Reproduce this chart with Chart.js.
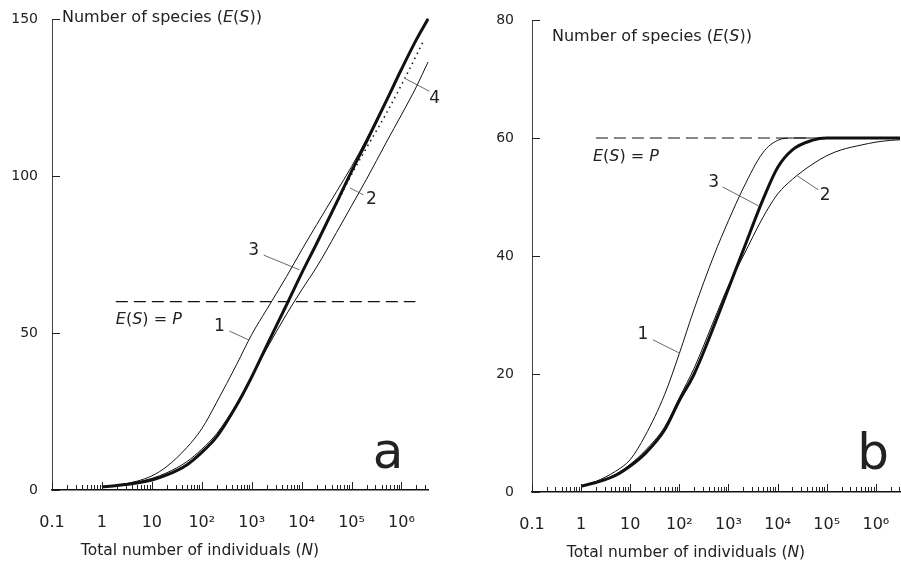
<!DOCTYPE html>
<html>
<head>
<meta charset="utf-8">
<title>Expected number of species E(S)</title>
<script src="https://cdn.jsdelivr.net/npm/chart.js@4.4.1/dist/chart.umd.min.js"></script>
<style>
  body { margin: 0; background: #fff; }
  #wrap { position: relative; width: 901px; height: 567px; }
  .panel { position: absolute; top: 0; height: 567px; }
  #panel-a { left: 0; width: 450px; }
  #panel-b { left: 450px; width: 451px; }
</style>
</head>
<body>
<div id="wrap">
  <div class="panel" id="panel-a"><canvas id="chart-a"></canvas></div>
  <div class="panel" id="panel-b"><canvas id="chart-b"></canvas></div>
</div>
<script>
// total number of individuals (N)
const nA = [1, 2, 5, 10, 20, 50, 100, 200, 500, 1e3, 2e3, 5e3, 1e4, 2e4, 5e4, 1e5, 2e5, 5e5, 1e6, 2e6, 3.4e6];
const nB = [1, 2, 5, 10, 20, 50, 100, 200, 500, 1e3, 2e3, 5e3, 1e4, 2e4, 5e4, 1e5, 2e5, 5e5, 1e6, 2e6, 3.1e6];

// panel a : E(S)
const curve1A = [1, 1.5, 2.8, 4.5, 7.5, 13.5, 19.5, 28, 40, 49.5, 57.5, 68, 76.4, 84.5, 95, 103, 111.8, 124.5, 134.3, 143.6, 150.2];
const curve2A = [1, 1.5, 2.5, 3.7, 5.5, 9, 13, 18, 27.5, 36, 45, 56, 63.7, 71, 82, 90.5, 99, 110.8, 119.5, 128.5, 136.3];
const curve3A = [1, 1.4, 2.2, 3.2, 4.8, 8, 12, 17, 27, 36, 46, 59, 69, 78.5, 91.5, 101.5, 111, 124, 134, 143.5, 150];
const nDottedA = [2e4, 5e4, 1e5, 2e5, 5e5, 1e6, 2e6, 2.75e6];
const curve4A = [78.5, 91, 100.5, 109, 120, 129, 138.5, 143];

// panel b : E(S)
const curve1B = [1, 1.8, 3.5, 5.5, 9.5, 16.5, 23.5, 31, 40, 46, 51.5, 57.5, 59.6, 60, 60, 60, 60, 60, 60, 60, 60];
const curve2B = [1, 1.7, 3.0, 4.7, 7, 11, 16, 21, 29, 35, 40, 46.5, 50.5, 53, 55.5, 57, 58, 58.8, 59.3, 59.6, 59.7];
const curve3B = [1, 1.6, 2.8, 4.4, 6.5, 10.5, 15.5, 20, 28, 34.5, 41, 49.5, 55, 58, 59.6, 60, 60, 60, 60, 60, 60];

// E(S) = P level
const poolSize = 60;
const nLevelA = [1.9, 1.9e6];
const nLevelB = [2, 4e4];

// axis ticks
const majorTicks = [0.1, 1, 10, 100, 1e3, 1e4, 1e5, 1e6];
const tickLabels = ["0.1", "1", "10", "10²", "10³", "10⁴", "10⁵", "10⁶"];

const FONT = '"DejaVu Sans", Verdana, sans-serif';

const pts = (xs, ys) => xs.map((x, i) => ({ x: x, y: ys[i] }));

function buildTicks(max) {
  let out = [];
  majorTicks.forEach((m) => {
    out.push(m);
    for (let k = 2; k <= 9; k++) {
      if (m * k <= max) out.push(m * k);
    }
  });
  return out.filter((v) => v <= max);
}

function line(data, width, dash) {
  return {
    data: data,
    borderColor: "#111",
    borderWidth: width,
    borderDash: dash || [],
    pointRadius: 0,
    fill: false,
    cubicInterpolationMode: "monotone",
    clip: 4,
  };
}

// draw mixed upright / italic text
function drawParts(ctx, parts, x, y, size, align) {
  let w = 0;
  parts.forEach((p) => {
    ctx.font = (p[1] ? "italic " : "") + size + "px " + FONT;
    w += ctx.measureText(p[0]).width;
  });
  let cx = align == "center" ? x - w / 2 : x;
  ctx.textAlign = "left";
  ctx.textBaseline = "middle";
  parts.forEach((p) => {
    ctx.font = (p[1] ? "italic " : "") + size + "px " + FONT;
    ctx.fillText(p[0], cx, y);
    cx += ctx.measureText(p[0]).width;
  });
}

const yTitle = [["Number of species (", false], ["E", true], ["(", false], ["S", true], ["))", false]];
const xTitle = [["Total number of individuals (", false], ["N", true], [")", false]];
const levelText = [["E", true], ["(", false], ["S", true], [") = ", false], ["P", true]];

function decorPlugin(cfg) {
  return {
    id: "decor",
    afterDraw(chart) {
      const { ctx, chartArea: ca, scales } = chart;
      const x = scales.x, y = scales.y;
      ctx.save();

      // inner tick marks
      ctx.strokeStyle = "#222";
      ctx.lineWidth = 1;
      ctx.beginPath();
      x.ticks.forEach((t) => {
        const px = Math.round(x.getPixelForValue(t.value)) + 0.5;
        const len = majorTicks.includes(t.value) ? 8 : 5;
        ctx.moveTo(px, ca.bottom);
        ctx.lineTo(px, ca.bottom - len);
      });
      y.ticks.forEach((t) => {
        const py = Math.round(y.getPixelForValue(t.value)) + 0.5;
        ctx.moveTo(ca.left, py);
        ctx.lineTo(ca.left + 8, py);
      });
      ctx.stroke();

      ctx.fillStyle = "#222";
      drawParts(ctx, yTitle, ca.left + cfg.yTitle[0], ca.top + cfg.yTitle[1], 16, "left");
      drawParts(ctx, xTitle, cfg.xTitle[0], cfg.xTitle[1], 15.5, "center");
      drawParts(ctx, levelText, x.getPixelForValue(cfg.level[0]), y.getPixelForValue(cfg.level[1]), 16, "left");

      // curve numbers with leader lines
      ctx.strokeStyle = "#444";
      ctx.lineWidth = 0.8;
      ctx.font = "17px " + FONT;
      ctx.textAlign = "center";
      ctx.textBaseline = "middle";
      cfg.labels.forEach((l) => {
        ctx.fillText(l.text, x.getPixelForValue(l.at[0]), y.getPixelForValue(l.at[1]));
        ctx.beginPath();
        ctx.moveTo(x.getPixelForValue(l.from[0]), y.getPixelForValue(l.from[1]));
        ctx.lineTo(x.getPixelForValue(l.to[0]), y.getPixelForValue(l.to[1]));
        ctx.stroke();
      });

      ctx.font = "50px " + FONT;
      ctx.textBaseline = "alphabetic";
      ctx.fillText(cfg.letter, ca.right - cfg.letterPos[0], ca.bottom - cfg.letterPos[1]);
      ctx.restore();
    },
  };
}

function options(xMax, yMax, yStep, pad, yWidth, xHeight, yPad) {
  return {
    responsive: true,
    maintainAspectRatio: false,
    animation: false,
    layout: { padding: pad },
    plugins: { legend: { display: false }, tooltip: { enabled: false } },
    scales: {
      x: {
        type: "logarithmic",
        min: 0.1,
        max: xMax,
        // tick marks are drawn inside by the plugin; tickLength only offsets the labels
        grid: { display: false, tickLength: 23 },
        border: { display: true, color: "#111", width: 1.5 },
        afterBuildTicks: (scale) => {
          scale.ticks = buildTicks(xMax).map((v) => ({ value: v }));
        },
        afterFit: (scale) => {
          scale.height = xHeight;
        },
        ticks: {
          autoSkip: false,
          maxRotation: 0,
          minRotation: 0,
          padding: 0,
          color: "#222",
          font: { family: FONT, size: 16 },
          callback: (value) => {
            const i = majorTicks.indexOf(value);
            return i >= 0 ? tickLabels[i] : "";
          },
        },
      },
      y: {
        min: 0,
        max: yMax,
        grid: { display: false, tickLength: 8 + yPad },
        border: { display: true, color: "#444", width: 1 },
        afterFit: (scale) => {
          scale.width = yWidth;
        },
        ticks: {
          stepSize: yStep,
          padding: 0,
          color: "#222",
          font: { family: FONT, size: 14 },
        },
      },
    },
  };
}

document.addEventListener("DOMContentLoaded", (event) => {
  const chartA = new Chart(document.getElementById("chart-a").getContext("2d"), {
    type: "line",
    data: {
      datasets: [
        line(pts(nLevelA, [poolSize, poolSize]), 1.2, [12, 6]),
        line(pts(nA, curve2A), 1),
        line(pts(nA, curve1A), 1),
        line(pts(nDottedA, curve4A), 1.5, [1.5, 4]),
        line(pts(nA, curve3A), 3),
      ],
    },
    options: options(3.4e6, 150, 50, { left: 0, right: 22, top: 19, bottom: 0 }, 52, 77, 6),
    plugins: [
      decorPlugin({
        yTitle: [10, -1],
        xTitle: [200, 551],
        level: [1.9, 54.1],
        letter: "a",
        letterPos: [40, 22],
        labels: [
          { text: "1", at: [226, 51.9], from: [359, 50.6], to: [871, 47.8] },
          { text: "3", at: [1096, 76.4], from: [1738, 74.8], to: [9120, 70.1] },
          { text: "2", at: [250000, 92.5], from: [172000, 94], to: [93000, 96.2] },
          { text: "4", at: [4.6e6, 124.5], from: [3.6e6, 127], to: [1.2e6, 131] },
        ],
      }),
    ],
  });

  const chartB = new Chart(document.getElementById("chart-b").getContext("2d"), {
    type: "line",
    data: {
      datasets: [
        line(pts(nLevelB, [poolSize, poolSize]), 1.2, [12, 6]),
        line(pts(nB, curve2B), 1),
        line(pts(nB, curve1B), 1),
        line(pts(nB, curve3B), 3),
      ],
    },
    options: options(3.1e6, 80, 20, { left: 0, right: 1, top: 20, bottom: 0 }, 82, 75, 10),
    plugins: [
      decorPlugin({
        yTitle: [20, 17],
        xTitle: [236, 553],
        level: [1.74, 56.8],
        letter: "b",
        letterPos: [27, 23],
        labels: [
          { text: "1", at: [18.2, 26.6], from: [28.8, 25.8], to: [97.7, 23.6] },
          { text: "3", at: [501, 52.5], from: [759, 51.7], to: [4074, 48.5] },
          { text: "2", at: [93300, 50.2], from: [67600, 51.2], to: [25100, 53.6] },
        ],
      }),
    ],
  });
});
</script>
</body>
</html>
